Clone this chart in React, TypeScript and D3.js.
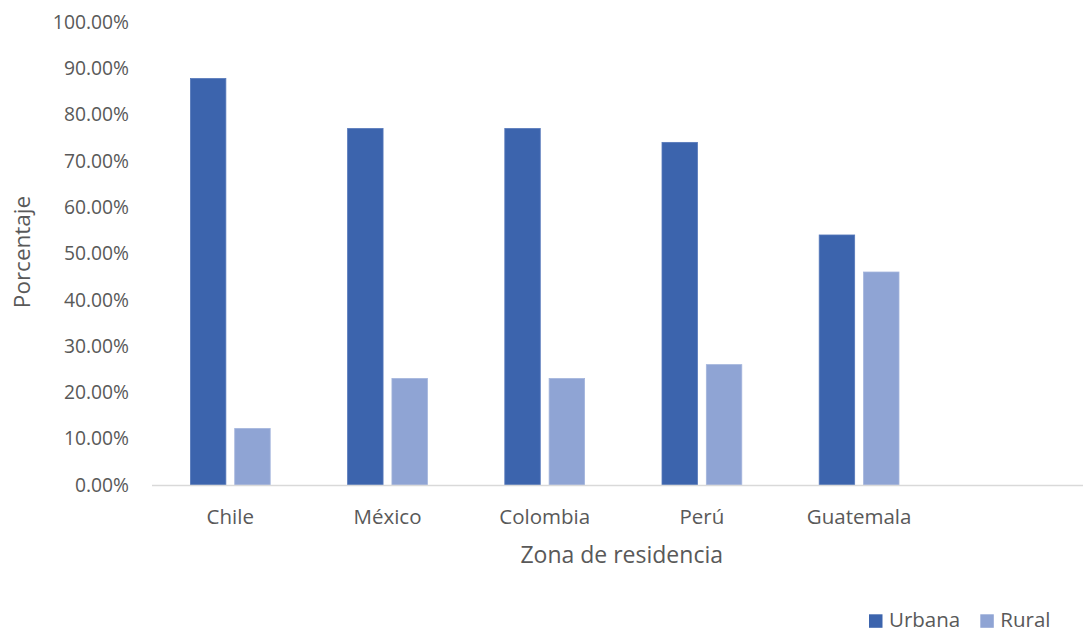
import React from "react";
import * as d3 from "d3";

const categories = ["Chile", "México", "Colombia", "Perú", "Guatemala", ""];
const seriesNames = ["Urbana", "Rural"];
const urbana = [0.878, 0.77, 0.77, 0.74, 0.54];
const rural = [0.122, 0.23, 0.23, 0.26, 0.46];
const yTicks = [0, 0.1, 0.2, 0.3, 0.4, 0.5, 0.6, 0.7, 0.8, 0.9, 1.0];
const colors = ["#3C64AD", "#8FA4D4"];

const W = 1083;
const H = 632;
const FONT = "'Open Sans', sans-serif";
const TEXT = "#595959";

export default function App() {
  const x = d3.scaleBand<string>().domain(categories).range([151.7, 151.7 + 6 * 157.2]).padding(0);
  const inner = d3.scaleBand<string>().domain(seriesNames).range([-39.9, 39.9]).paddingInner(0.2);
  const y = d3.scaleLinear().domain([0, 1]).range([485, 22]);
  const values = [urbana, rural];
  const fmt = (v: number) => (v * 100).toFixed(2) + "%";

  return (
    <svg width={W} height={H} style={{ position: "absolute", left: 0, top: 0, background: "#fff" }} fontFamily={FONT}>
      {yTicks.map((t) => (
        <text key={t} x={129} y={y(t)} dy="0.35em" textAnchor="end" fontSize={19.3} fill={TEXT}>
          {fmt(t)}
        </text>
      ))}
      {seriesNames.map((s, si) =>
        categories.slice(0, values[si].length).map((c, ci) => {
          const cx = (x(c) as number) + x.bandwidth() / 2;
          const v = values[si][ci];
          return (
            <rect
              key={s + c}
              x={cx + (inner(s) as number)}
              y={y(v)}
              width={inner.bandwidth()}
              height={y(0) - y(v)}
              fill={colors[si]}
              stroke={si === 0 ? "#5678BA" : "#A3B4DC"}
              strokeWidth={0.8}
            />
          );
        })
      )}
      <line x1={152} x2={W} y1={485.5} y2={485.5} stroke="#D9D9D9" strokeWidth={1.5} />
      {categories.map((c) => (
        <text key={"l" + c} x={(x(c) as number) + x.bandwidth() / 2} y={517} dy="0.35em" textAnchor="middle" fontSize={20.5} fill={TEXT}>
          {c}
        </text>
      ))}
      <text x={621.7} y={555} dy="0.35em" textAnchor="middle" fontSize={23} fill={TEXT}>
        Zona de residencia
      </text>
      <text transform="translate(22,252) rotate(-90)" dy="0.35em" textAnchor="middle" fontSize={22.5} fill={TEXT}>
        Porcentaje
      </text>
      {seriesNames.map((s, i) => {
        const lx = i === 0 ? 869 : 980.3;
        return (
          <g key={"lg" + s}>
            <rect x={lx} y={614.3} width={13.5} height={13.5} fill={colors[i]} />
            <text x={lx + 20} y={619.5} dy="0.35em" fontSize={20.5} fill={TEXT}>
              {s}
            </text>
          </g>
        );
      })}
    </svg>
  );
}
